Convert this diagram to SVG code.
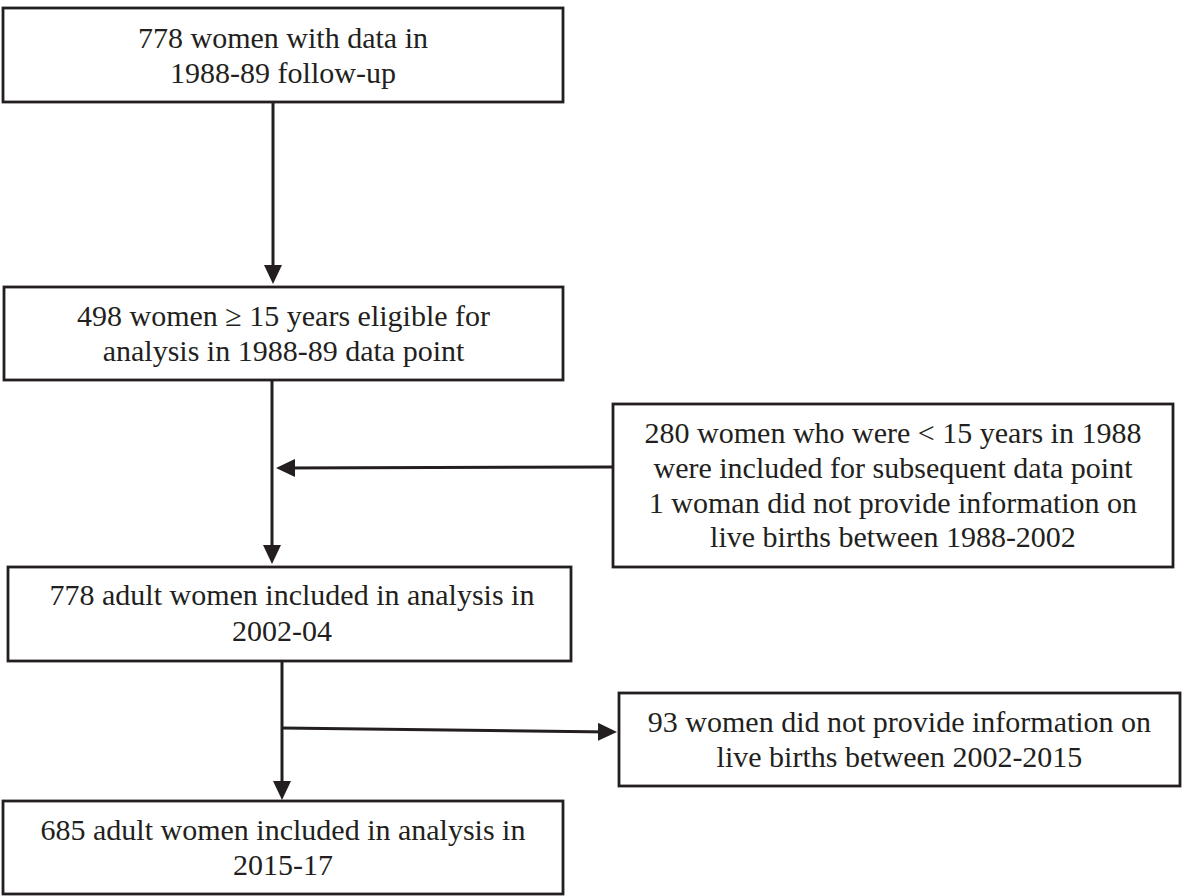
<svg xmlns="http://www.w3.org/2000/svg" width="1184" height="896" viewBox="0 0 1184 896">
  <style>
    .box { fill: #ffffff; stroke: #231f20; stroke-width: 2.8; }
    .lbl { font-family: "Liberation Serif", "Times New Roman", serif; font-size: 30px; fill: #231f20; text-anchor: middle; }
    .conn { fill: none; stroke: #231f20; stroke-width: 3; marker-end: url(#arrow); }
  </style>
  <defs>
    <marker id="arrow" markerUnits="userSpaceOnUse" markerWidth="19" markerHeight="18" refX="12" refY="9" orient="auto">
      <path d="M0,0 L19,9 L0,18 z" fill="#231f20"/>
    </marker>
  </defs>
  <rect width="1184" height="896" fill="#ffffff"/>

  <g id="connectors">
    <line class="conn" x1="273" y1="102" x2="273" y2="277"/>
    <line class="conn" x1="272" y1="380" x2="272" y2="557"/>
    <line class="conn" x1="613" y1="467" x2="283" y2="468"/>
    <line class="conn" x1="282" y1="661" x2="282" y2="793"/>
    <line class="conn" x1="282" y1="728" x2="610" y2="732"/>
  </g>

  <g id="node1">
    <rect class="box" x="3" y="8" width="560" height="94"/>
    <text class="lbl" x="283" y="48">778 women with data in</text>
    <text class="lbl" x="283" y="83">1988-89 follow-up</text>
  </g>

  <g id="node2">
    <rect class="box" x="4" y="287" width="559" height="93"/>
    <text class="lbl" x="283.5" y="326">498 women ≥ 15 years eligible for</text>
    <text class="lbl" x="283.5" y="361">analysis in 1988-89 data point</text>
  </g>

  <g id="node3">
    <rect class="box" x="613" y="404" width="560" height="163"/>
    <text class="lbl" x="893" y="443">280 women who were &lt; 15 years in 1988</text>
    <text class="lbl" x="893" y="478">were included for subsequent data point</text>
    <text class="lbl" x="893" y="513">1 woman did not provide information on</text>
    <text class="lbl" x="893" y="547">live births between 1988-2002</text>
  </g>

  <g id="node4">
    <rect class="box" x="8" y="567" width="563" height="94"/>
    <text class="lbl" x="292" y="605">778 adult women included in analysis in</text>
    <text class="lbl" x="282" y="641">2002-04</text>
  </g>

  <g id="node5">
    <rect class="box" x="619" y="693" width="561" height="93"/>
    <text class="lbl" x="899.5" y="732">93 women did not provide information on</text>
    <text class="lbl" x="899.5" y="767">live births between 2002-2015</text>
  </g>

  <g id="node6">
    <rect class="box" x="3" y="801" width="560" height="93"/>
    <text class="lbl" x="283" y="840">685 adult women included in analysis in</text>
    <text class="lbl" x="283" y="875">2015-17</text>
  </g>
</svg>
